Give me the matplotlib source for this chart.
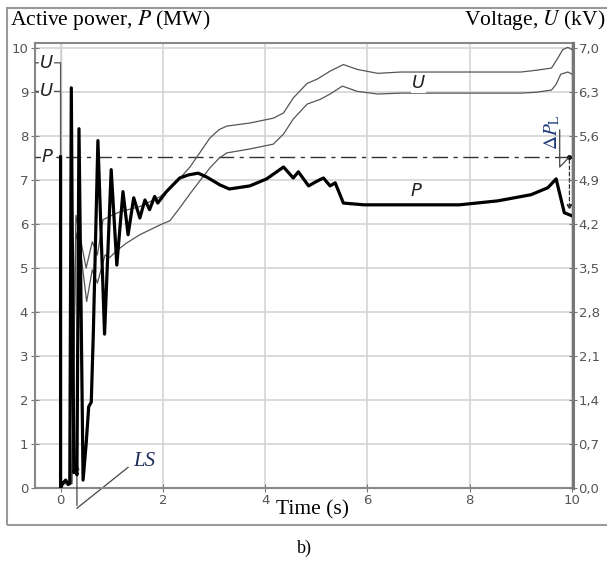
import matplotlib
matplotlib.use('Agg')
import matplotlib.pyplot as plt
from matplotlib.patches import Rectangle

plt.rcParams['mathtext.fontset'] = 'stix'

# active power P (MW), thick curve
p_t = [0, 0, 0.05, 0.1, 0.15, 0.18, 0.21, 0.26, 0.29, 0.32, 0.36, 0.44, 0.5, 0.55,
       0.6, 0.64, 0.73, 0.86, 0.99, 1.1, 1.22, 1.32, 1.43, 1.55, 1.65, 1.74, 1.84,
       1.9, 2.07, 2.33, 2.5, 2.69, 2.86, 3.12, 3.3, 3.7, 4.03, 4.36, 4.55, 4.65,
       4.85, 5.0, 5.14, 5.27, 5.37, 5.53, 5.93, 7.8, 8.55, 9.2, 9.53, 9.69, 9.85, 10.0]
p_val = [7.53, 0, 0.12, 0.18, 0.08, 0.1, 9.1, 0.35, 0.5, 0.3, 8.17, 0.18, 1.0, 1.85,
         1.95, 3.5, 7.9, 3.5, 7.24, 5.07, 6.74, 5.76, 6.6, 6.14, 6.55, 6.33, 6.63,
         6.48, 6.74, 7.05, 7.12, 7.16, 7.07, 6.89, 6.8, 6.87, 7.03, 7.3, 7.05, 7.19,
         6.87, 6.97, 7.05, 6.87, 6.94, 6.48, 6.44, 6.44, 6.53, 6.67, 6.83, 7.03, 6.26, 6.19]

# voltage, upper curve (plotted on the P scale, 10 MW <-> 7 kV)
u1_t = [-0.5, 0, 0, 0.22, 0.3, 0.4, 0.5, 0.62, 0.72, 0.83, 1.0, 1.16, 1.55, 1.94,
        2.27, 2.53, 2.72, 2.92, 3.1, 3.25, 3.7, 4.16, 4.36, 4.55, 4.82, 5.02, 5.27,
        5.53, 5.8, 6.2, 6.65, 9.0, 9.3, 9.6, 9.72, 9.82, 9.92, 10.0]
u1_val = [9.67, 9.67, 0.1, 0.1, 6.2, 5.6, 5.0, 5.6, 5.3, 6.1, 6.2, 6.28, 6.4, 6.62,
          6.96, 7.3, 7.62, 7.96, 8.15, 8.23, 8.3, 8.41, 8.53, 8.87, 9.2, 9.3, 9.48,
          9.63, 9.52, 9.43, 9.46, 9.46, 9.5, 9.55, 9.77, 9.97, 10.02, 9.97]

# voltage, lower curve
u2_t = [-0.5, 0, 0, 0.22, 0.3, 0.4, 0.51, 0.62, 0.72, 0.87, 0.96, 1.1, 1.29, 1.55,
        1.94, 2.14, 2.33, 2.53, 2.72, 2.92, 3.1, 3.25, 3.7, 4.16, 4.36, 4.55, 4.82,
        5.08, 5.27, 5.51, 5.8, 6.2, 6.65, 9.0, 9.3, 9.6, 9.69, 9.78, 9.92, 10.0]
u2_val = [9.02, 9.02, 0.1, 0.1, 5.8, 5.3, 4.24, 4.96, 4.66, 5.3, 5.24, 5.4, 5.57, 5.76,
          5.98, 6.08, 6.37, 6.69, 6.98, 7.28, 7.5, 7.62, 7.71, 7.82, 8.05, 8.39, 8.73,
          8.84, 8.96, 9.14, 9.02, 8.96, 8.98, 8.98, 9.0, 9.05, 9.18, 9.41, 9.46, 9.41]

p_before = 7.53
p_ticks = list(range(0, 11))
t_ticks = [0, 2, 4, 6, 8, 10]
u_ticks = [0.0, 0.7, 1.4, 2.1, 2.8, 3.5, 4.2, 4.9, 5.6, 6.3, 7.0]
u_labels = ['0,0', '0,7', '1,4', '2,1', '2,8', '3,5', '4,2', '4,9', '5,6', '6,3', '7,0']

W, H = 607, 565
fig = plt.figure(figsize=(W / 100, H / 100), dpi=100)

def fx(px):
    return px / W

def fy(py):
    return 1 - py / H

# outer frame
fig.patches.append(Rectangle((fx(7), fy(525)), fx(620) - fx(7), fy(8) - fy(525),
                             transform=fig.transFigure, fill=False,
                             edgecolor='#999999', linewidth=1.5))

ax = fig.add_axes([fx(35), fy(488), fx(573) - fx(35), fy(43) - fy(488)])
ax.set_xlim(-0.5, 10.02)
ax.set_ylim(0, 10.12)

tick_col = '#555555'
ax.set_xticks(t_ticks)
ax.set_yticks(p_ticks)
ax.tick_params(direction='inout', length=6, colors='#777777', labelcolor=tick_col,
               labelsize=9.5)
ax.tick_params(axis='x', pad=1)
ax.tick_params(axis='y', pad=2)
ax.grid(True, color='#d4d4d4', linewidth=1.2)
ax.axvline(0, color='#bbbbbb', linewidth=1.0, zorder=1)
for s in ax.spines.values():
    s.set_color('#888888')
    s.set_linewidth(1.5)

# reference level of P before the event
ax.plot([-0.5, 9.95], [p_before, p_before], color='#333333', linewidth=1.0,
        linestyle=(0, (11, 4, 3, 4)), zorder=3)
ax.plot([9.95], [p_before], marker='o', markersize=2.5, color='black', zorder=4)

ax.plot(u1_t, u1_val, color='#555555', linewidth=0.9, zorder=3)
ax.plot(u2_t, u2_val, color='#555555', linewidth=0.9, zorder=3)
ax.plot(p_t, p_val, color='black', linewidth=2.3, zorder=4)

lab = dict(fontsize=13, style='italic', ha='center', va='center', color='#222222',
           bbox=dict(facecolor='white', edgecolor='none', pad=0.5), zorder=5)
ax.text(-0.27, 9.67, 'U', **lab)
ax.text(-0.27, 9.02, 'U', **lab)
ax.text(-0.27, p_before, 'P', **lab)
ax.text(7.0, 9.2, 'U', **lab)
ax.text(6.95, 6.75, 'P', **lab)

# LS marker
ax.annotate('', xy=(0.32, 0.6), xytext=(0.32, -0.46),
            arrowprops=dict(arrowstyle='-|>', color='#444444', lw=0.9,
                            mutation_scale=7), annotation_clip=False)
ax.plot([0.32, 1.32], [-0.46, 0.47], color='#444444', linewidth=0.9, clip_on=False)
ax.text(1.42, 0.6, 'LS', fontsize=15, style='italic', family='Liberation Serif',
        color='#1f2d5c', ha='left', va='center')

# Delta P_L marker
ax.plot([9.76, 9.76, 9.95], [8.14, 7.3, p_before], color='#444444', linewidth=0.9,
        zorder=4)
ax.annotate('', xy=(9.95, 6.25), xytext=(9.95, p_before),
            arrowprops=dict(arrowstyle='-|>', color='#333333', lw=0.9,
                            linestyle=(0, (3, 2)), mutation_scale=8), zorder=4)
ax.text(9.62, 8.1, r'$\Delta P_{\rm L}$', fontsize=14, rotation=90, color='#1f3a7a',
        ha='center', va='center')

ax2 = ax.twinx()
ax2.set_ylim(0, 10.12 * 0.7)
ax2.set_yticks(u_ticks)
ax2.set_yticklabels(u_labels)
ax2.tick_params(direction='inout', length=6, colors='#777777', labelcolor=tick_col,
                labelsize=9.5, pad=1)
for s in ax2.spines.values():
    s.set_visible(False)
ax2.spines['right'].set_visible(True)
ax2.spines['right'].set_color('#777777')
ax2.spines['right'].set_linewidth(2.2)

serif = dict(family='Liberation Serif', fontsize=15.5, color='black', va='center')
fig.text(fx(10), fy(20), r'Active power, $P$ (MW)', ha='left', **serif)
fig.text(fx(605), fy(20), r'Voltage, $U$ (kV)', ha='right', **serif)
fig.text(fx(313), fy(510), 'Time (s)', ha='center',
         bbox=dict(facecolor='white', edgecolor='none', pad=1), **serif)
fig.text(fx(304), fy(548), 'b)', ha='center', family='Liberation Serif',
         fontsize=13, va='center')

fig.savefig('out.png', dpi=100)
